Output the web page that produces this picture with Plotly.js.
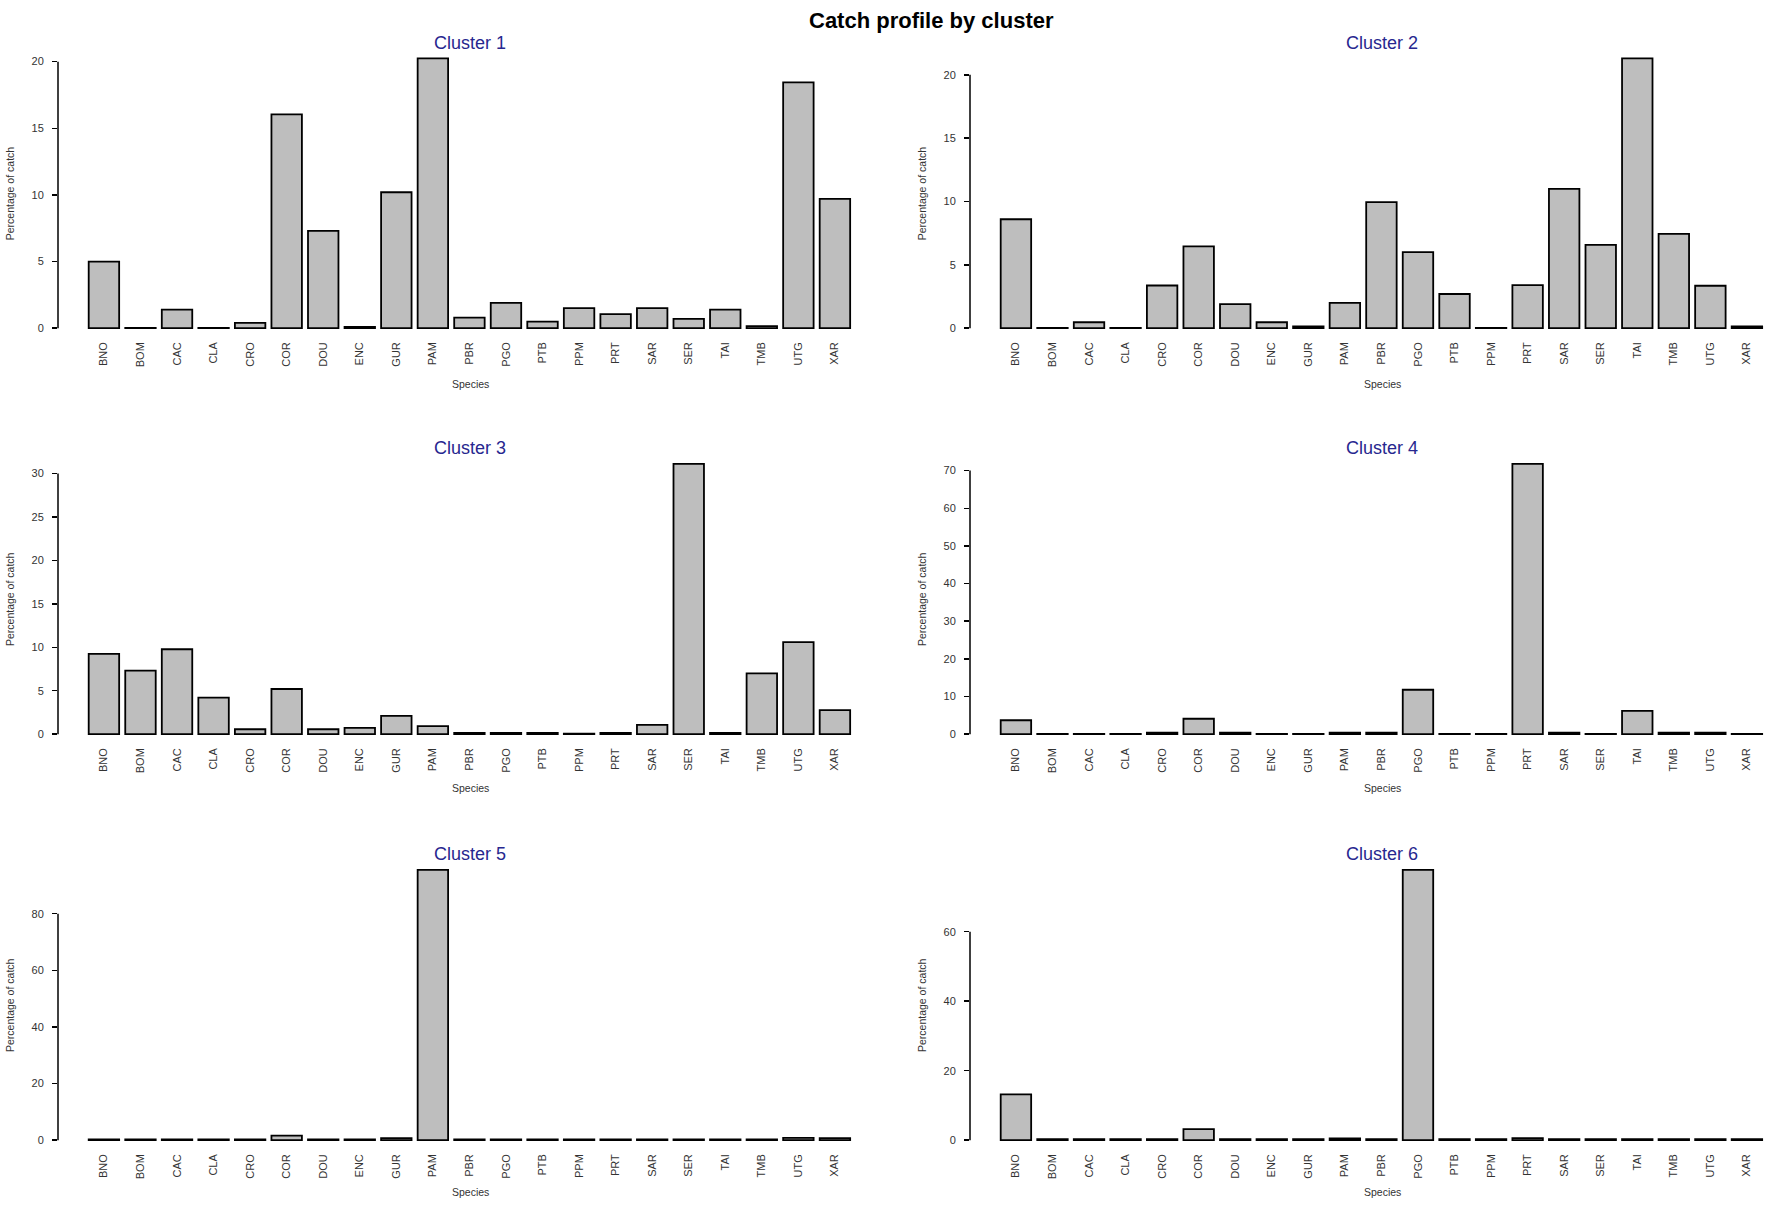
<!DOCTYPE html>
<html>
<head>
<meta charset="utf-8">
<script src="https://cdn.plot.ly/plotly-3.0.1.min.js"></script>
<style>html,body{margin:0;padding:0;background:#fff;}#chart{width:1772px;height:1216px;}</style>
</head>
<body>
<div id="chart"></div>
<script>
// ---- data ----
const species = ['BNO','BOM','CAC','CLA','CRO','COR','DOU','ENC','GUR','PAM','PBR','PGO','PTB','PPM','PRT','SAR','SER','TAI','TMB','UTG','XAR'];
const clusterNames = ['Cluster 1','Cluster 2','Cluster 3','Cluster 4','Cluster 5','Cluster 6'];
const cluster1 = [5.0, 0.03, 1.4, 0.03, 0.4, 16.05, 7.3, 0.1, 10.2, 20.25, 0.8, 1.9, 0.5, 1.5, 1.05, 1.5, 0.7, 1.4, 0.15, 18.45, 9.7];
const cluster2 = [8.6, 0.03, 0.47, 0.03, 3.37, 6.45, 1.9, 0.47, 0.15, 2.0, 9.95, 6.0, 2.7, 0.03, 3.4, 11.0, 6.58, 21.3, 7.45, 3.35, 0.15];
const cluster3 = [9.23, 7.3, 9.77, 4.2, 0.57, 5.2, 0.57, 0.73, 2.1, 0.92, 0.15, 0.15, 0.15, 0.05, 0.15, 1.07, 31.1, 0.15, 7.0, 10.6, 2.76];
const cluster4 = [3.7, 0.1, 0.1, 0.1, 0.4, 4.1, 0.4, 0.1, 0.1, 0.4, 0.4, 11.8, 0.1, 0.1, 71.8, 0.4, 0.1, 6.2, 0.4, 0.4, 0.1];
const cluster5 = [0.3, 0.3, 0.3, 0.3, 0.3, 1.6, 0.3, 0.3, 0.7, 95.5, 0.3, 0.3, 0.3, 0.3, 0.3, 0.3, 0.3, 0.3, 0.3, 0.8, 0.7];
const cluster6 = [13.2, 0.3, 0.3, 0.3, 0.3, 3.2, 0.3, 0.3, 0.3, 0.5, 0.3, 77.8, 0.3, 0.3, 0.6, 0.3, 0.3, 0.3, 0.3, 0.3, 0.3];
const yTickStep = [5, 5, 5, 10, 20, 20];
const yTickTop = [20, 20, 30, 70, 80, 60];
const mainTitle = 'Catch profile by cluster';
const yTitle = 'Percentage of catch';
const xTitle = 'Species';

// ---- layout helpers ----
const W = 1772, H = 1216;
const fx = p => p / W;
const fy = p => 1 - p / H;
const colLeft = [58, 970], colRight = [883, 1772], colCenter = [470, 1382];
const rowTop = [47.5, 453, 859], rowBottom = [339, 745, 1151];
const titleY = [43, 448, 854], speciesY = [384, 788, 1192];
const unitPx = 36.55;
const xLeftVal = -0.4167 - 0.84;

const allData = [cluster1, cluster2, cluster3, cluster4, cluster5, cluster6];
const font = 'Liberation Sans, Arial, sans-serif';

const traces = [];
const layout = {
  width: W, height: H,
  margin: {l: 0, r: 0, t: 0, b: 0},
  paper_bgcolor: '#fff', plot_bgcolor: '#fff',
  showlegend: false,
  bargap: 1 - 1 / 1.2,
  font: {family: font, color: '#222'},
  annotations: [], shapes: []
};

layout.annotations.push({
  text: '<b>' + mainTitle + '</b>', xref: 'paper', yref: 'paper',
  x: fx(932), y: fy(20), xanchor: 'center', yanchor: 'middle', showarrow: false,
  font: {family: font, size: 22, color: '#000'}
});

allData.forEach((vals, i) => {
  const r = Math.floor(i / 2), c = i % 2;
  const n = i === 0 ? '' : String(i + 1);
  const xa = 'x' + n, ya = 'y' + n;
  const mx = Math.max(...vals);
  traces.push({
    type: 'bar', x: species, y: vals, xaxis: xa, yaxis: ya,
    marker: {color: '#bebebe', line: {color: '#000', width: 1.8}},
    hoverinfo: 'x+y'
  });
  const xRight = xLeftVal + (colRight[c] - colLeft[c]) / unitPx;
  const ticks = [];
  for (let t = 0; t <= yTickTop[i] + 1e-9; t += yTickStep[i]) ticks.push(t);
  layout['xaxis' + n] = {
    domain: [fx(colLeft[c]), fx(colRight[c])],
    anchor: ya, type: 'category', range: [xLeftVal, xRight],
    showline: false, showgrid: false, zeroline: false, ticks: '',
    tickangle: -90, tickfont: {family: font, size: 11, color: '#333'},
    fixedrange: true
  };
  layout['yaxis' + n] = {
    domain: [fy(rowBottom[r]), fy(rowTop[r])],
    anchor: xa, range: [-0.04 * mx, 1.04 * mx],
    tickvals: ticks, ticktext: ticks.map(String),
    showline: false, showgrid: false, zeroline: false,
    ticks: 'outside', ticklen: 5, tickwidth: 1.5, tickcolor: '#000',
    ticklabelstandoff: 6,
    tickfont: {family: font, size: 11, color: '#333'},
    fixedrange: true
  };
  layout.shapes.push({
    type: 'line', xref: xa + ' domain', yref: ya,
    x0: 0, x1: 0, y0: 0, y1: yTickTop[i],
    line: {color: '#000', width: 1.5}
  });
  layout.annotations.push({
    text: clusterNames[i], xref: 'paper', yref: 'paper',
    x: fx(colCenter[c]), y: fy(titleY[r]), xanchor: 'center', yanchor: 'middle',
    showarrow: false, font: {family: font, size: 18, color: '#27278f'}
  });
  layout.annotations.push({
    text: yTitle, xref: 'paper', yref: 'paper', textangle: -90,
    x: fx(colLeft[c] - 48), y: fy((rowTop[r] + rowBottom[r]) / 2),
    xanchor: 'center', yanchor: 'middle', showarrow: false,
    font: {family: font, size: 10.5, color: '#333'}
  });
  layout.annotations.push({
    text: xTitle, xref: 'paper', yref: 'paper',
    x: fx(colCenter[c]), y: fy(speciesY[r]), xanchor: 'center', yanchor: 'middle',
    showarrow: false, font: {family: font, size: 10.5, color: '#333'}
  });
});

Plotly.newPlot('chart', traces, layout, {displayModeBar: false, staticPlot: true});
</script>
</body>
</html>
